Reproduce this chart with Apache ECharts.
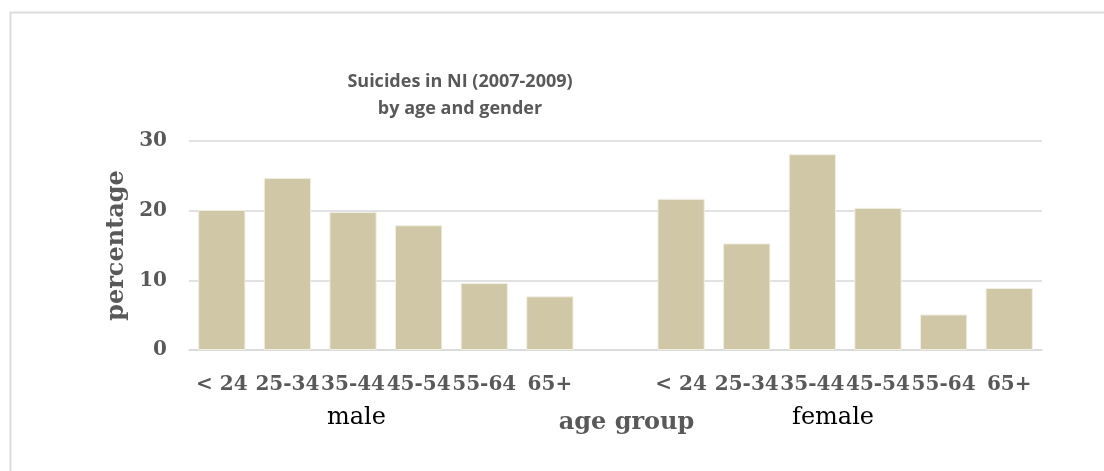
<!DOCTYPE html>
<html>
<head>
<meta charset="utf-8">
<script src="https://cdn.jsdelivr.net/npm/echarts@6/dist/echarts.min.js"></script>
<style>
  html, body { margin: 0; padding: 0; background: #fff; }
  #chart { width: 1104px; height: 471px; }
</style>
</head>
<body>
<div id="chart"></div>
<script>
const ageGroups = ['< 24', '25-34', '35-44', '45-54', '55-64', '65+'];
const maleValues = [20.1, 24.7, 19.8, 17.9, 9.6, 7.7];
const femaleValues = [21.7, 15.3, 28.1, 20.4, 5.1, 8.9];
const yTicks = [0, 10, 20, 30];

// male block, one empty slot, female block
const categories = [...ageGroups, '', ...ageGroups];
const barData = [...maleValues, '-', ...femaleValues];

const serif = '"DejaVu Serif", serif';
const gridColor = '#d9d9d9';

const chart = echarts.init(document.getElementById('chart'));
chart.setOption({
  animation: false,
  title: {
    text: 'Suicides in NI (2007-2009)\nby age and gender',
    left: 455,
    top: 63,
    textAlign: 'center',
    textStyle: {
      fontFamily: '"Open Sans", sans-serif',
      fontWeight: 'bold',
      fontSize: 18,
      lineHeight: 27,
      color: '#595959'
    }
  },
  grid: {
    left: 189,
    right: 62,
    top: 141,
    bottom: 121
  },
  xAxis: {
    type: 'category',
    data: categories,
    name: 'age group',
    nameLocation: 'middle',
    nameGap: 61,
    nameTextStyle: {
      fontFamily: serif,
      fontWeight: 'bold',
      fontSize: 24,
      color: '#595959',
      padding: [0, 0, 0, 22]
    },
    axisLine: { lineStyle: { color: gridColor, width: 1.5 } },
    axisTick: { show: false },
    axisLabel: {
      interval: 0,
      margin: 25,
      fontFamily: serif,
      fontWeight: 'bold',
      fontSize: 20,
      color: '#595959'
    }
  },
  yAxis: {
    type: 'value',
    min: yTicks[0],
    max: yTicks[yTicks.length - 1],
    interval: 10,
    name: 'percentage',
    nameLocation: 'middle',
    nameGap: 57,
    nameTextStyle: {
      fontFamily: serif,
      fontWeight: 'bold',
      fontSize: 24,
      color: '#595959'
    },
    axisLine: { show: false },
    axisTick: { show: false },
    axisLabel: {
      margin: 22,
      fontFamily: serif,
      fontWeight: 'bold',
      fontSize: 20,
      color: '#595959'
    },
    splitLine: { lineStyle: { color: gridColor, width: 1.5 } }
  },
  series: [
    {
      type: 'bar',
      data: barData,
      barCategoryGap: '28%',
      itemStyle: {
        color: '#cfc7a5',
        borderColor: '#f1eee3',
        borderWidth: 1
      }
    }
  ],
  graphic: [
    {
      type: 'rect',
      silent: true,
      shape: { x: 10.5, y: 12.5, width: 1200, height: 600 },
      style: { fill: 'none', stroke: '#dcdcdc', lineWidth: 2 }
    },
    {
      type: 'text',
      left: 327,
      top: 406,
      style: { text: 'male', font: '24px "DejaVu Serif", serif', fill: '#000' }
    },
    {
      type: 'text',
      left: 792,
      top: 406,
      style: { text: 'female', font: '24px "DejaVu Serif", serif', fill: '#000' }
    }
  ]
});
</script>
</body>
</html>
